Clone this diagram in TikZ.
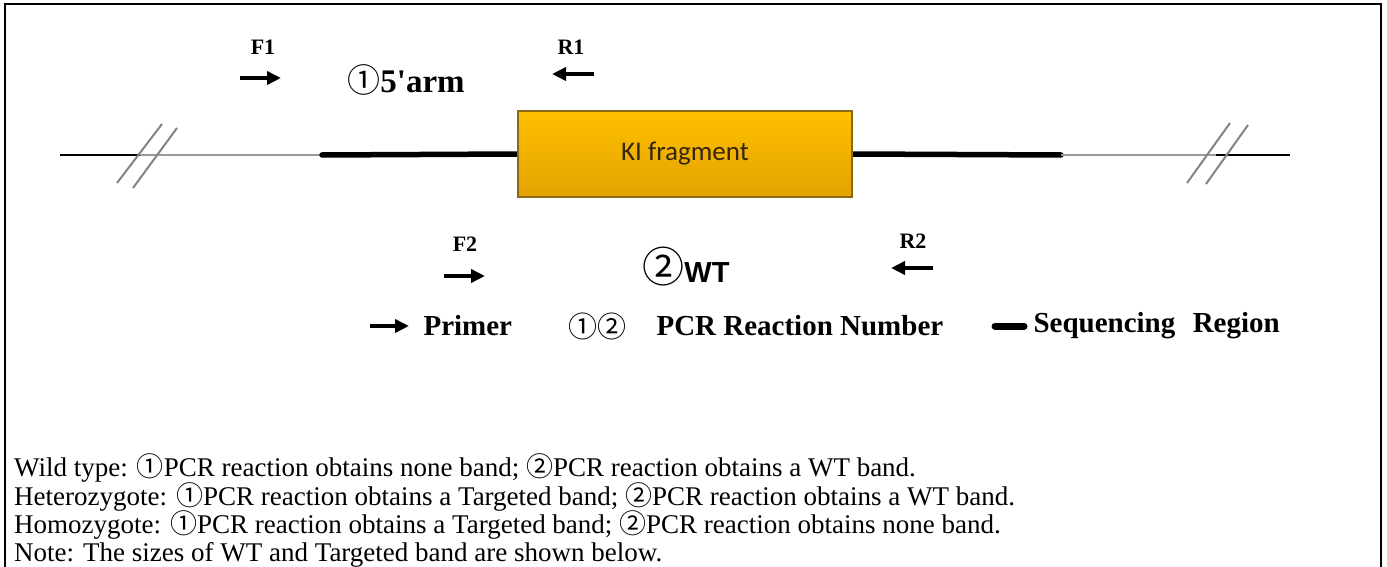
\documentclass[tikz,border=0pt]{standalone}
\usepackage{fontspec}
\setmainfont{Liberation Serif}
\newfontfamily\calfont{Carlito}
\newfontfamily\headfont{Liberation Sans}
\newfontfamily\cjkfont{Noto Sans CJK SC}
\usetikzlibrary{arrows.meta,positioning,backgrounds}
\definecolor{kigold}{HTML}{FFC000}
\definecolor{kiamber}{HTML}{E2A200}
\definecolor{kiedge}{HTML}{8A6A10}
\definecolor{kitext}{HTML}{35260A}
\definecolor{flank}{HTML}{9A9A9A}
\newcommand{\cnum}[1]{{\cjkfont\mdseries #1}}
\newcommand{\fsz}[1]{\fontsize{#1}{#1}\selectfont}

\begin{document}
\begin{tikzpicture}[x=1pt,y=-1pt,
	primer/.style={line width=3.5pt,-{Triangle[length=14pt,width=13pt]}},
	plabel/.style={font=\fsz{22}\bfseries},
	legtext/.style={anchor=west,font=\fsz{29}\bfseries},
	note/.style={anchor=base west,inner sep=0pt,font=\fsz{27}},
	arm/.style={line width=5.5pt,line cap=round},
	cut/.style={flank!85!black,line width=2pt}]
	\useasboundingbox (0,0) rectangle (1387,567);
	\draw [line width=1.5pt] (5,567) -- (5,4) -- (1381,4) -- (1381,567);

	\node (ki) [draw=kiedge, line width=1.2pt, top color=kigold, bottom color=kiamber,
		minimum width=334pt, minimum height=86pt, text=kitext, font=\calfont\fsz{27}] at (685,154) {KI fragment};
	\coordinate (lend) at (60,155);
	\coordinate (lcut) at (140,155);
	\coordinate (larm) at (322,155);
	\coordinate (rarm) at (1061,155);
	\coordinate (rcut) at (1216,155);
	\coordinate (rend) at (1290,155);
	\begin{scope}[on background layer]
		\draw [line width=2pt] (lend) -- (lcut);
		\draw [flank, line width=2.5pt] (lcut) -- (larm);
		\draw [arm] (larm) -- (ki.west);
		\draw [arm] (ki.east) -- (rarm);
		\draw [flank, line width=2.5pt] (rarm) -- (rcut);
		\draw [line width=2pt] (rcut) -- (rend);
	\end{scope}
	\draw [cut] (117,183) -- (162,124);
	\draw [cut] (133,188) -- (177,128);
	\draw [cut] (1187,183) -- (1230,123);
	\draw [cut] (1206,184) -- (1248,125);

	\node (f1) [plabel] at (263,47) {F1};
	\node (r1) [plabel] at (571,47) {R1};
	\node (f2) [plabel] at (465,244) {F2};
	\node (r2) [plabel] at (913,241) {R2};
	\coordinate (f1a) at (240,78);  \coordinate (f1b) at (281,78);
	\coordinate (r1a) at (594,74);  \coordinate (r1b) at (552,74);
	\coordinate (f2a) at (444,276); \coordinate (f2b) at (485,276);
	\coordinate (r2a) at (933,268); \coordinate (r2b) at (891,268);
	\draw [primer] (f1a) -- (f1b);
	\draw [primer] (r1a) -- (r1b);
	\draw [primer] (f2a) -- (f2b);
	\draw [primer] (r2a) -- (r2b);
	\node (arm5) [font=\fsz{33}\bfseries] at (406,80) {\cnum{①}5\textquotesingle arm};
	\node (wt) [inner sep=0pt] at (686,267) {{\cjkfont\fsz{42}②}{\headfont\bfseries\fsz{29}WT}};

	\coordinate (la) at (370,326); \coordinate (lb) at (409,326);
	\draw [primer] (la) -- (lb);
	\node (lprimer) [legtext] at (420,326) {Primer};
	\node (lnum) [legtext] at (565,326) {\cnum{①②}};
	\node (lpcr) [legtext] at (653,326) {PCR Reaction Number};
	\coordinate (sa) at (995,326); \coordinate (sb) at (1024,326);
	\draw [line width=7pt,line cap=round] (sa) -- (sb);
	\node (lseq) [legtext] at (1030,326) {Sequencing\hspace{0.6em}Region};

	\node (wild) [note] at (14,476) {Wild type: \cnum{①}PCR reaction obtains none band; \cnum{②}PCR reaction obtains a WT band.};
	\node (het) [note] at (14,505) {Heterozygote: \cnum{①}PCR reaction obtains a Targeted band; \cnum{②}PCR reaction obtains a WT band.};
	\node (hom) [note] at (14,533) {Homozygote: \cnum{①}PCR reaction obtains a Targeted band; \cnum{②}PCR reaction obtains none band.};
	\node (nt) [note] at (14,561) {Note: The sizes of WT and Targeted band are shown below.};
\end{tikzpicture}
\end{document}
